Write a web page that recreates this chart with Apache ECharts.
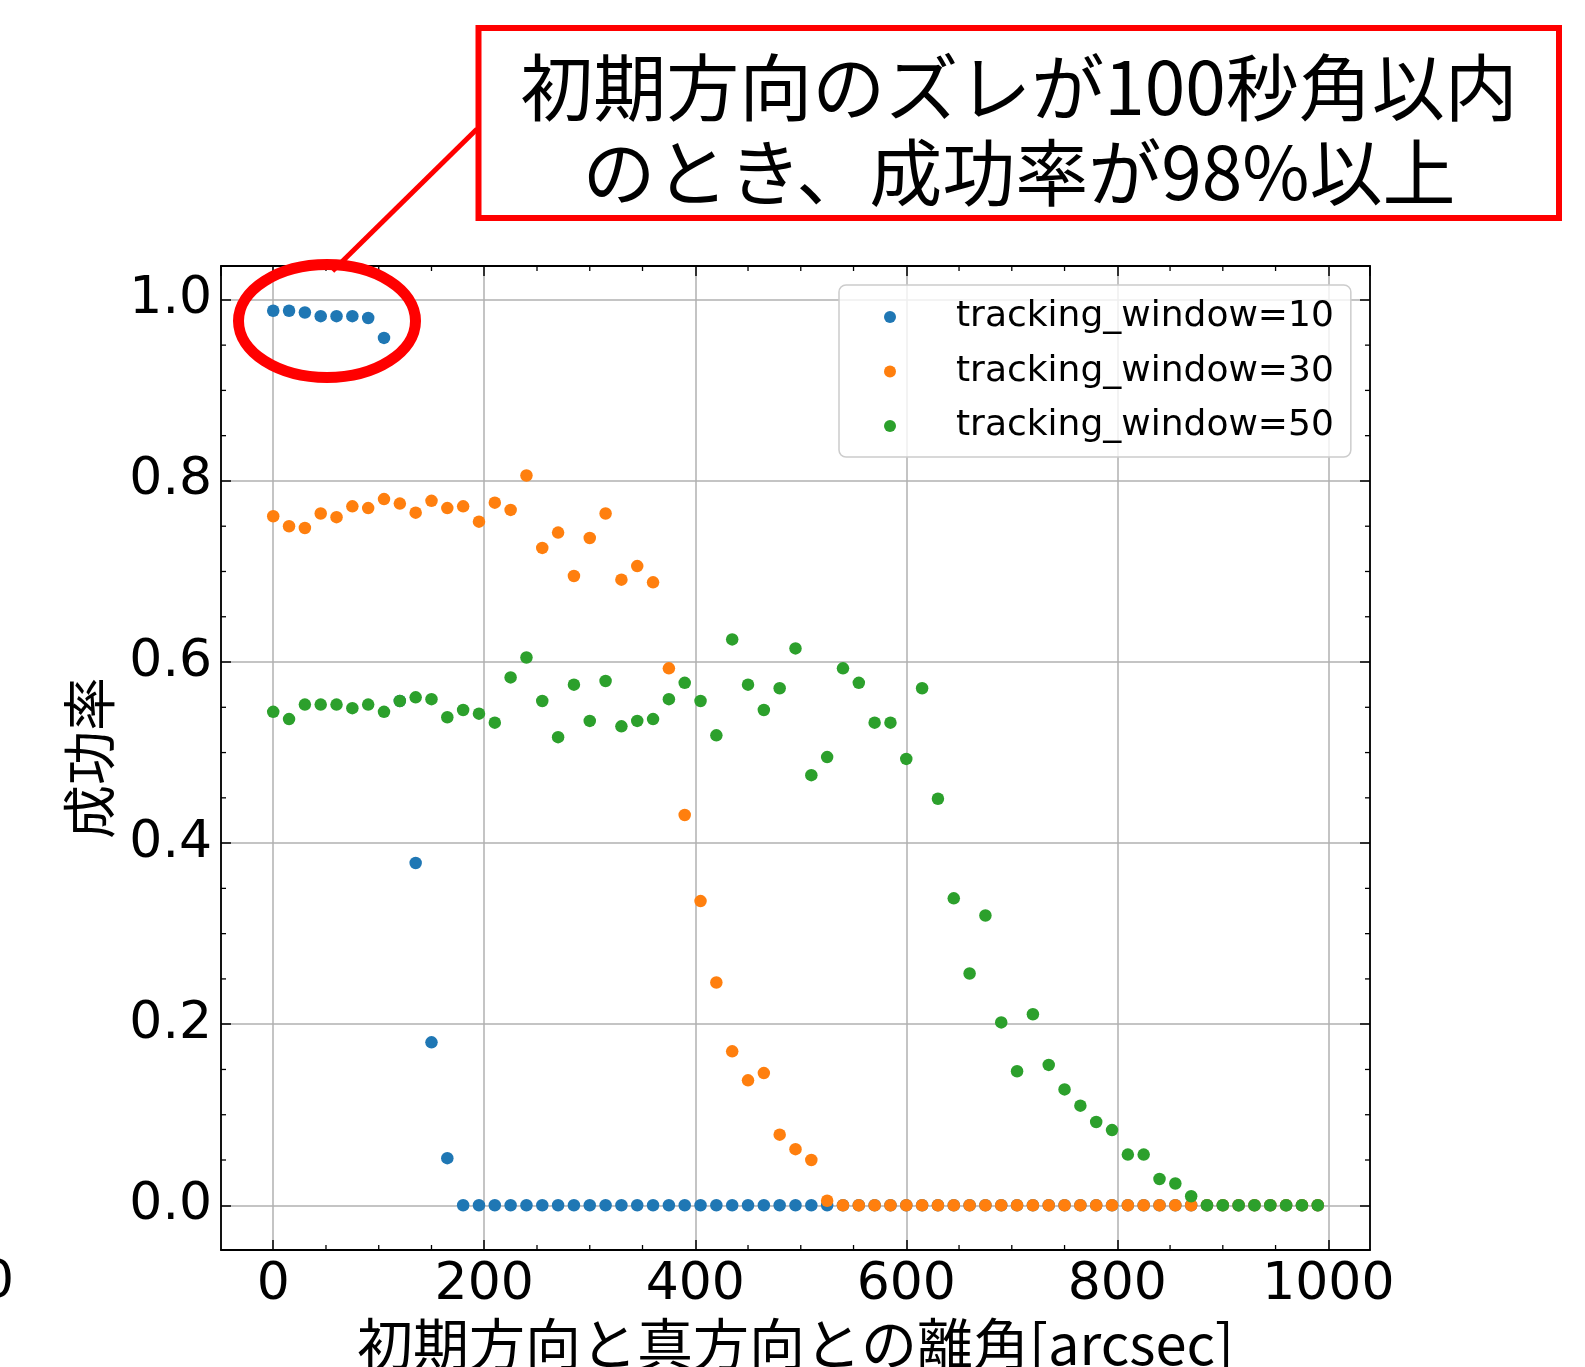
<!DOCTYPE html>
<html>
<head>
<meta charset="utf-8">
<title>tracking_window 成功率</title>
<script src="https://cdn.jsdelivr.net/npm/echarts@6/dist/echarts.min.js"></script>
<style>
  html, body { margin: 0; padding: 0; background: #ffffff; }
  #chart { width: 1585px; height: 1367px; }
</style>
</head>
<body>
<div id="chart"></div>
<script>
// Initial pointing offset from the true direction [arcsec]
const offsets = [
  0, 15, 30, 45, 60, 75, 90, 105, 120, 135, 150, 165, 180, 195, 210, 225, 240, 255,
  270, 285, 300, 315, 330, 345, 360, 375, 390, 405, 420, 435, 450, 465, 480, 495,
  510, 525, 540, 555, 570, 585, 600, 615, 630, 645, 660, 675, 690, 705, 720, 735,
  750, 765, 780, 795, 810, 825, 840, 855, 870, 885, 900, 915, 930, 945, 960, 975, 990
];

// Success rate for tracking_window=10
const window10 = [
  0.988, 0.988, 0.986, 0.982, 0.982, 0.982, 0.980, 0.958, 0.557, 0.378, 0.180, 0.052,
  0, 0, 0, 0, 0, 0, 0, 0, 0, 0, 0, 0, 0, 0, 0, 0, 0, 0, 0, 0, 0, 0, 0, 0,
  0, 0, 0, 0, 0, 0, 0, 0, 0, 0, 0, 0, 0, 0, 0, 0, 0, 0, 0, 0, 0, 0, 0, 0,
  0, 0, 0, 0, 0, 0, 0
];

// Success rate for tracking_window=30
const window30 = [
  0.761, 0.750, 0.748, 0.764, 0.760, 0.772, 0.770, 0.780, 0.775, 0.765, 0.778, 0.770,
  0.772, 0.755, 0.776, 0.768, 0.806, 0.726, 0.743, 0.695, 0.737, 0.764, 0.691, 0.706,
  0.688, 0.593, 0.431, 0.336, 0.246, 0.170, 0.138, 0.146, 0.078, 0.062, 0.050, 0.005,
  0, 0, 0, 0, 0, 0, 0, 0, 0, 0, 0, 0, 0, 0, 0, 0, 0, 0, 0, 0, 0, 0, 0, 0,
  0, 0, 0, 0, 0, 0, 0
];

// Success rate for tracking_window=50
const window50 = [
  0.545, 0.537, 0.553, 0.553, 0.553, 0.549, 0.553, 0.545, 0.557, 0.561, 0.559, 0.539,
  0.547, 0.543, 0.533, 0.583, 0.605, 0.557, 0.517, 0.575, 0.535, 0.579, 0.529, 0.535,
  0.537, 0.559, 0.577, 0.557, 0.519, 0.625, 0.575, 0.547, 0.571, 0.615, 0.475, 0.495,
  0.593, 0.577, 0.533, 0.533, 0.493, 0.571, 0.449, 0.339, 0.256, 0.320, 0.202, 0.148,
  0.211, 0.155, 0.128, 0.110, 0.092, 0.083, 0.056, 0.056, 0.029, 0.024, 0.010,
  0, 0, 0, 0, 0, 0, 0, 0
];

const seriesNames = ['tracking_window=10', 'tracking_window=30', 'tracking_window=50'];
const seriesColors = ['#1f77b4', '#ff7f0e', '#2ca02c'];

// Tick positions
const xTicks = [0, 200, 400, 600, 800, 1000];
const yTicks = [0.0, 0.2, 0.4, 0.6, 0.8, 1.0];
const xMinorTicks = [50, 100, 150, 250, 300, 350, 450, 500, 550, 650, 700, 750, 850, 900, 950];
const yMinorTicks = [0.05, 0.1, 0.15, 0.25, 0.3, 0.35, 0.45, 0.5, 0.55, 0.65, 0.7, 0.75, 0.85, 0.9, 0.95];

// Axis limits (data range plus 5% margins)
const xLimits = [-49.5, 1039.5];
const yLimits = [-0.0494, 1.0374];

const annotationLines = ['初期方向のズレが100秒角以内', 'のとき、成功率が98%以上'];
const xAxisTitle = '初期方向と真方向との離角[arcsec]';
const yAxisTitle = '成功率';

const chart = echarts.init(document.getElementById('chart'), null, { renderer: 'canvas' });

const isTick = (list, v) => list.some(t => Math.abs(t - v) < 1e-9);

const spine = { show: true, onZero: false, lineStyle: { color: '#000000', width: 1.8 } };
const majorTick = { show: true, inside: true, length: 10, lineStyle: { color: '#000000', width: 1.5 } };
const gridLine = { show: true, lineStyle: { color: '#b0b0b0', width: 1.5 } };
const tickFont = { fontFamily: 'DejaVu Sans', fontSize: 52, color: '#000000' };

function pairs(ys) {
  return offsets.map((x, i) => [x, ys[i]]);
}

// Short inward minor ticks on all four sides of the frame
function minorTickItem(dim) {
  return function (params, api) {
    const cs = params.coordSys;
    const len = 5;
    const style = { stroke: '#000000', lineWidth: 1.3 };
    if (dim === 'x') {
      const px = api.coord([api.value(0), 0])[0];
      return {
        type: 'group',
        children: [
          { type: 'line', shape: { x1: px, y1: cs.y + cs.height, x2: px, y2: cs.y + cs.height - len }, style },
          { type: 'line', shape: { x1: px, y1: cs.y, x2: px, y2: cs.y + len }, style }
        ]
      };
    }
    const py = api.coord([0, api.value(1)])[1];
    return {
      type: 'group',
      children: [
        { type: 'line', shape: { x1: cs.x, y1: py, x2: cs.x + len, y2: py }, style },
        { type: 'line', shape: { x1: cs.x + cs.width, y1: py, x2: cs.x + cs.width - len, y2: py }, style }
      ]
    };
  };
}

const scatterSeries = [window10, window30, window50].map((ys, i) => ({
  name: seriesNames[i],
  type: 'scatter',
  xAxisIndex: 0,
  yAxisIndex: 0,
  symbol: 'circle',
  symbolSize: 12.5,
  itemStyle: { color: seriesColors[i], opacity: 1 },
  emphasis: { disabled: true },
  data: pairs(ys),
  z: 2 + i * 0.01
}));

const option = {
  animation: false,
  backgroundColor: '#ffffff',
  grid: {
    left: 221, top: 266, width: 1149, height: 984,
    containLabel: false,
    outerBoundsMode: 'none'
  },
  legend: {
    orient: 'vertical',
    left: 839,
    top: 285,
    padding: [12, 17, 11, 45],
    itemWidth: 24,
    itemHeight: 12,
    itemGap: 14.5,
    icon: 'circle',
    selectedMode: false,
    backgroundColor: 'rgba(255,255,255,0.8)',
    borderColor: '#cccccc',
    borderWidth: 1.5,
    borderRadius: 7,
    data: seriesNames,
    textStyle: {
      fontFamily: 'DejaVu Sans',
      fontSize: 36,
      lineHeight: 40,
      color: '#000000',
      padding: [0, 0, 0, 49]
    }
  },
  xAxis: [
    {
      type: 'value',
      position: 'bottom',
      min: xLimits[0],
      max: xLimits[1],
      splitNumber: 5,
      name: xAxisTitle,
      nameLocation: 'middle',
      nameGap: 58,
      nameTextStyle: { fontFamily: 'Noto Sans CJK JP', fontSize: 56, color: '#000000' },
      axisLine: spine,
      axisTick: majorTick,
      splitLine: gridLine,
      axisLabel: Object.assign({
        margin: 9,
        showMinLabel: false,
        showMaxLabel: false,
        formatter: v => (isTick(xTicks, v) ? String(Math.round(v)) : '')
      }, tickFont)
    },
    {
      type: 'value',
      position: 'top',
      min: xLimits[0],
      max: xLimits[1],
      splitNumber: 5,
      axisLine: spine,
      axisTick: majorTick,
      splitLine: { show: false },
      axisLabel: { show: false }
    }
  ],
  yAxis: [
    {
      type: 'value',
      position: 'left',
      min: yLimits[0],
      max: yLimits[1],
      splitNumber: 5,
      name: yAxisTitle,
      nameLocation: 'middle',
      nameGap: 105,
      nameTextStyle: { fontFamily: 'Noto Sans CJK JP', fontSize: 54, color: '#000000' },
      axisLine: spine,
      axisTick: majorTick,
      splitLine: gridLine,
      axisLabel: Object.assign({
        margin: 9,
        showMinLabel: false,
        showMaxLabel: false,
        formatter: v => (isTick(yTicks, v) ? v.toFixed(1) : '')
      }, tickFont)
    },
    {
      type: 'value',
      position: 'right',
      min: yLimits[0],
      max: yLimits[1],
      splitNumber: 5,
      axisLine: spine,
      axisTick: majorTick,
      splitLine: { show: false },
      axisLabel: { show: false }
    }
  ],
  series: scatterSeries.concat([
    {
      type: 'custom',
      name: 'x-minor',
      xAxisIndex: 0,
      yAxisIndex: 0,
      silent: true,
      clip: false,
      z: 5,
      renderItem: minorTickItem('x'),
      data: xMinorTicks.map(v => [v, 0])
    },
    {
      type: 'custom',
      name: 'y-minor',
      xAxisIndex: 0,
      yAxisIndex: 0,
      silent: true,
      clip: false,
      z: 5,
      renderItem: minorTickItem('y'),
      data: yMinorTicks.map(v => [0, v])
    }
  ]),
  graphic: [
    {
      type: 'text',
      x: 14,
      y: 1283,
      z: 50,
      style: {
        text: '0',
        font: '52px "DejaVu Sans"',
        fill: '#000000',
        align: 'right',
        verticalAlign: 'middle',
        textAlign: 'right',
        textVerticalAlign: 'middle'
      }
    },
    {
      type: 'line',
      z: 100,
      shape: { x1: 477, y1: 129, x2: 332.5, y2: 271 },
      style: { stroke: '#ff0000', lineWidth: 5 }
    },
    {
      type: 'ellipse',
      z: 100,
      shape: { cx: 327, cy: 321, rx: 88.5, ry: 56.5 },
      style: { fill: 'rgba(0,0,0,0)', stroke: '#ff0000', lineWidth: 11 }
    },
    {
      type: 'rect',
      z: 100,
      shape: { x: 478.5, y: 28, width: 1080.5, height: 190 },
      style: { fill: '#ffffff', stroke: '#ff0000', lineWidth: 6 }
    },
    {
      type: 'text',
      z: 101,
      x: 1019,
      y: 87,
      style: {
        text: annotationLines[0],
        font: '73px "Noto Sans CJK JP"',
        fill: '#000000',
        align: 'center',
        verticalAlign: 'middle',
        textAlign: 'center',
        textVerticalAlign: 'middle'
      }
    },
    {
      type: 'text',
      z: 101,
      x: 1019,
      y: 172,
      style: {
        text: annotationLines[1],
        font: '73px "Noto Sans CJK JP"',
        fill: '#000000',
        align: 'center',
        verticalAlign: 'middle',
        textAlign: 'center',
        textVerticalAlign: 'middle'
      }
    }
  ]
};

chart.setOption(option);
</script>
</body>
</html>
